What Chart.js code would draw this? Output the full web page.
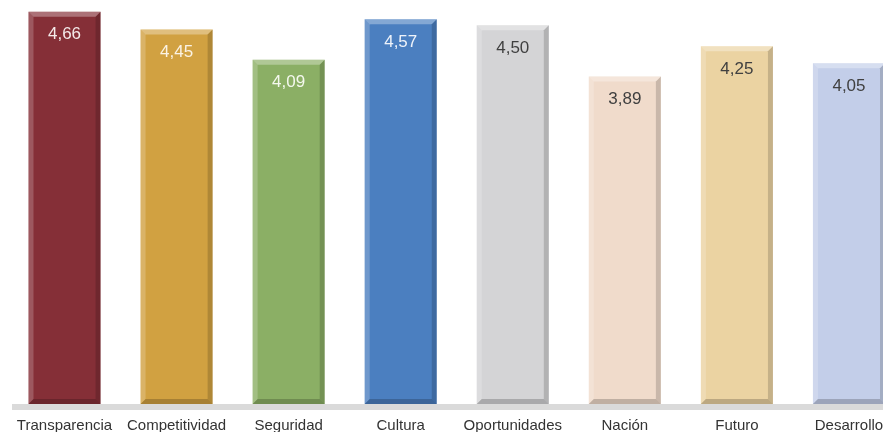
<!DOCTYPE html>
<html>
<head>
<meta charset="utf-8">
<script src="https://cdn.jsdelivr.net/npm/chart.js@4"></script>
<style>
html,body{margin:0;padding:0;background:#fff;overflow:hidden;}
#wrap{width:883px;height:432px;overflow:hidden;position:relative;}
#c{position:absolute;left:0;top:0;}
</style>
</head>
<body>
<div id="wrap"><canvas id="c" width="905" height="432"></canvas></div>
<script>
const categories = ["Transparencia","Competitividad","Seguridad","Cultura","Oportunidades","Nación","Futuro","Desarrollo"];
const values = [4.66, 4.45, 4.09, 4.57, 4.50, 3.89, 4.25, 4.05];
const barColors = ["#852F37","#D1A141","#8BAF65","#4B7FC0","#D4D4D6","#F0DBCB","#EBD3A2","#C3CEE9"];
const labelColors = ["#F4EAEA","#FBF3E4","#F4F8EE","#EEF3FA","#404040","#404040","#404040","#404040"];

const bevelPlugin = {
  id: 'bevel',
  beforeDatasetsDraw(chart) {
    const ctx = chart.ctx;
    const y0 = chart.scales.y.getPixelForValue(0);
    ctx.save();
    ctx.fillStyle = '#DADADA';
    ctx.fillRect(12, y0, chart.width - 12, 6);
    ctx.restore();
  },
  afterDatasetsDraw(chart) {
    const ctx = chart.ctx;
    const meta = chart.getDatasetMeta(0);
    meta.data.forEach((bar, i) => {
      const p = bar.getProps(['x','y','width','base'], true);
      const l = p.x - p.width/2, r = p.x + p.width/2, t = p.y, bt = p.base;
      const b = 5;
      const poly = (pts, col) => {
        ctx.beginPath();
        ctx.moveTo(pts[0][0], pts[0][1]);
        for (let k = 1; k < pts.length; k++) ctx.lineTo(pts[k][0], pts[k][1]);
        ctx.closePath();
        ctx.fillStyle = col;
        ctx.fill();
      };
      ctx.save();
      poly([[l,t],[r,t],[r-b,t+b],[l+b,t+b]], 'rgba(255,255,255,0.32)');
      poly([[l,t],[l+b,t+b],[l+b,bt-b],[l,bt]], 'rgba(255,255,255,0.2)');
      poly([[r,t],[r-b,t+b],[r-b,bt-b],[r,bt]], 'rgba(0,0,0,0.16)');
      poly([[l,bt],[l+b,bt-b],[r-b,bt-b],[r,bt]], 'rgba(0,0,0,0.2)');
      ctx.font = '17px "Liberation Sans", Arial, sans-serif';
      ctx.textAlign = 'center';
      ctx.textBaseline = 'middle';
      ctx.fillStyle = labelColors[i];
      ctx.fillText(values[i].toFixed(2).replace('.', ','), p.x, t + 23);
      ctx.restore();
    });
  }
};

new Chart(document.getElementById('c'), {
  type: 'bar',
  data: {
    labels: categories,
    datasets: [{
      data: values,
      backgroundColor: barColors,
      borderWidth: 0,
      categoryPercentage: 1,
      barPercentage: 0.643
    }]
  },
  options: {
    responsive: false,
    animation: false,
    layout: { padding: { left: 8.5, right: 0, top: 0, bottom: 0 } },
    plugins: { legend: { display: false }, tooltip: { enabled: false } },
    scales: {
      x: {
        grid: { display: false, drawTicks: false },
        border: { display: false },
        afterFit(scale) { scale.height = 28; },
        ticks: {
          padding: 13,
          color: '#333333',
          font: { family: '"Liberation Sans", Arial, sans-serif', size: 15 },
          maxRotation: 0,
          autoSkip: false
        }
      },
      y: {
        display: false,
        min: 0,
        max: 4.8
      }
    }
  },
  plugins: [bevelPlugin]
});
</script>
</body>
</html>
